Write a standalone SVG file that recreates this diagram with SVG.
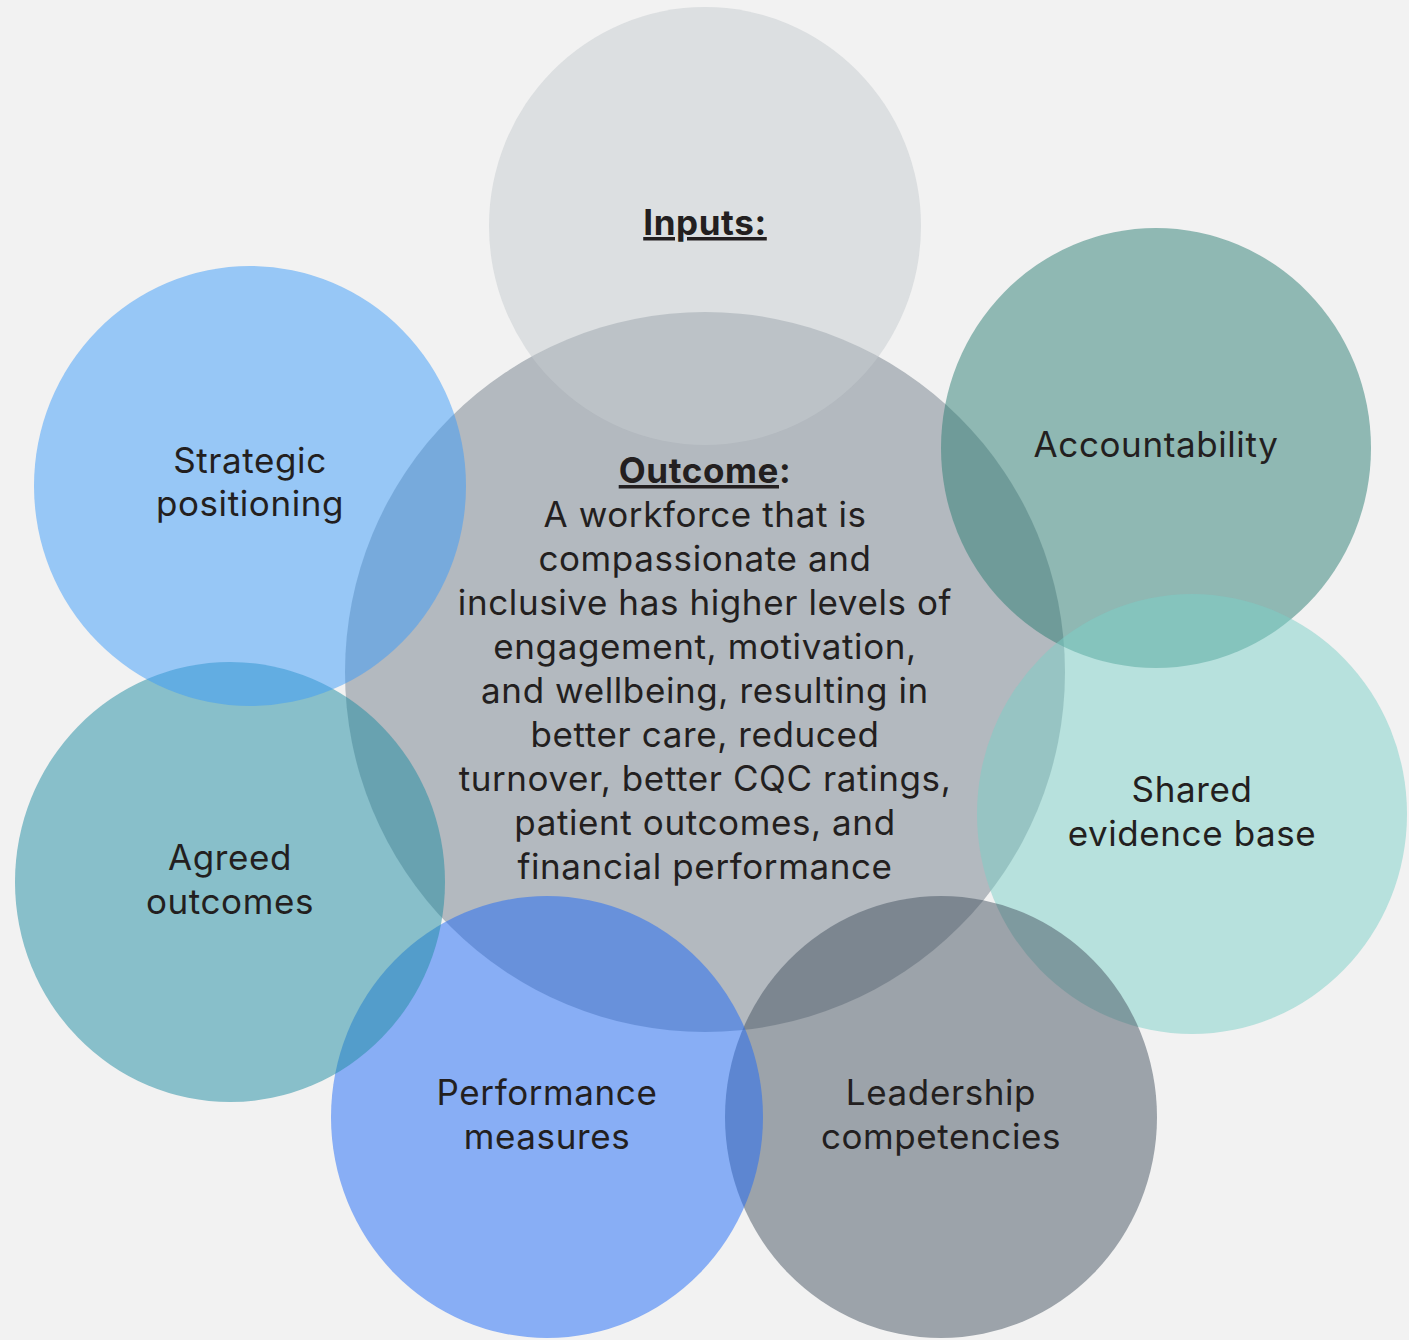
<svg xmlns="http://www.w3.org/2000/svg" width="1409" height="1340" viewBox="0 0 1409 1340">
<style>
.c{fill-opacity:0.5}
text{font-family:Inter,"Noto Sans","Liberation Sans",sans-serif;font-size:35px;letter-spacing:0.6px;fill:#231f20;text-anchor:middle}
.b{font-weight:bold}
.u{text-decoration:underline}
</style>
<rect width="1409" height="1340" fill="#f2f2f2"/>
<g id="outcome">
<circle class="c" cx="705" cy="672" r="360" fill="#74808c"/>
</g>
<g id="inputs">
<ellipse class="c" cx="705" cy="226" rx="216" ry="219" fill="#c6ccd0"/>
<text x="705" y="235" class="b"><tspan class="u">Inputs:</tspan></text>
</g>
<g id="accountability">
<ellipse class="c" cx="1156" cy="448" rx="215" ry="220" fill="#2c7e74"/>
<text x="1156" y="457">Accountability</text>
</g>
<g id="shared">
<ellipse class="c" cx="1192" cy="814" rx="215" ry="220" fill="#7cd0c8"/>
<text x="1192" y="802">Shared</text>
<text x="1192" y="846">evidence base</text>
</g>
<g id="leadership">
<ellipse class="c" cx="941" cy="1117" rx="216" ry="221" fill="#465462"/>
<text x="941" y="1105">Leadership</text>
<text x="941" y="1149">competencies</text>
</g>
<g id="performance">
<ellipse class="c" cx="547" cy="1117" rx="216" ry="221" fill="#1e6af8"/>
<text x="547" y="1105">Performance</text>
<text x="547" y="1149">measures</text>
</g>
<g id="agreed">
<ellipse class="c" cx="230" cy="882" rx="215" ry="220" fill="#1e8ca2"/>
<text x="230" y="870">Agreed</text>
<text x="230" y="914">outcomes</text>
</g>
<g id="strategic">
<ellipse class="c" cx="250" cy="486" rx="216" ry="220" fill="#3c9cfa"/>
<text x="250" y="473">Strategic</text>
<text x="250" y="516">positioning</text>
</g>
<g id="outcome-text">
<text x="705" y="483" class="b"><tspan class="u">Outcome</tspan>:</text>
<text x="705" y="527">A workforce that is</text>
<text x="705" y="571">compassionate and</text>
<text x="705" y="615">inclusive has higher levels of</text>
<text x="705" y="659">engagement, motivation,</text>
<text x="705" y="703">and wellbeing, resulting in</text>
<text x="705" y="747">better care, reduced</text>
<text x="705" y="791">turnover, better CQC ratings,</text>
<text x="705" y="835">patient outcomes, and</text>
<text x="705" y="879">financial performance</text>
</g>
<g id="connectors"></g>
</svg>
